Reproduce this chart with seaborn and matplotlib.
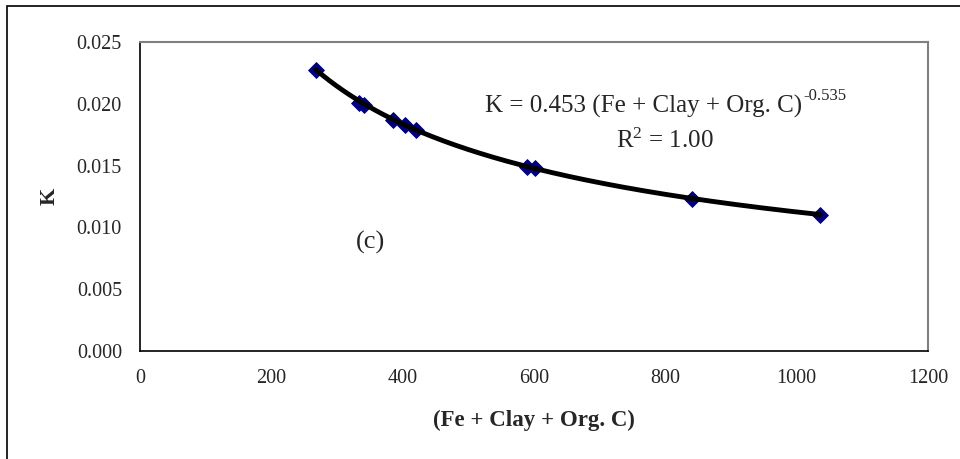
import numpy as np
import pandas as pd
import matplotlib
matplotlib.use("Agg")
import matplotlib.pyplot as plt
import seaborn as sns
from matplotlib.patches import Rectangle

# Data
x_vals = [268, 334, 341, 386, 404, 421, 590, 601, 840, 1036]
k_vals = [0.0227, 0.0201, 0.0199, 0.0187, 0.0183, 0.0179, 0.0149, 0.0148, 0.0123, 0.0110]
fit_a = 0.453
fit_b = -0.535
x_ticks = [0, 200, 400, 600, 800, 1000, 1200]
y_ticks = [0.000, 0.005, 0.010, 0.015, 0.020, 0.025]

sns.set_style("white")
plt.rcParams['font.family'] = ['Liberation Serif', 'DejaVu Serif']
plt.rcParams['mathtext.fontset'] = 'custom'
plt.rcParams['mathtext.rm'] = 'Liberation Serif'
plt.rcParams['mathtext.it'] = 'Liberation Serif'

fig = plt.figure(figsize=(9.6, 4.59), dpi=100)
ax = fig.add_axes([140/960, 1-351/459, (928-140)/960, (351-42)/459])

df = pd.DataFrame({"x": x_vals, "K": k_vals})
xf = np.linspace(min(x_vals), max(x_vals), 300)
fit_df = pd.DataFrame({"x": xf, "K": fit_a * xf ** fit_b})

sns.scatterplot(data=df, x="x", y="K", ax=ax, marker="D", s=65, color="#000080",
                edgecolor="#000080", zorder=3)
sns.lineplot(data=fit_df, x="x", y="K", ax=ax, color="black", lw=3.5, zorder=4)

ax.set_xlim(0, 1200)
ax.set_ylim(0, 0.025)
ax.set_xticks(x_ticks)
ax.set_xticklabels([str(t) for t in x_ticks])
ax.set_yticks(y_ticks)
ax.set_yticklabels([f"{t:.3f}" for t in y_ticks])
ax.tick_params(direction="in", length=6, width=1, color="black", labelsize=14.5,
               top=False, right=False)
ax.tick_params(axis="x", pad=13)
ax.tick_params(axis="y", pad=13)

for s in ["left", "bottom"]:
    ax.spines[s].set_color("black")
    ax.spines[s].set_linewidth(1.2)
for s in ["top", "right"]:
    ax.spines[s].set_color("#808080")
    ax.spines[s].set_linewidth(1.5)

ax.set_xlabel("(Fe + Clay + Org. C)", fontsize=16.5, fontweight="bold", labelpad=16)
ax.set_ylabel("K", fontsize=16, fontweight="bold", labelpad=12)

eq = ax.text(0.438, 0.770, "K = 0.453 (Fe + Clay + Org. C)", transform=ax.transAxes,
             ha="left", va="baseline", fontsize=18)
ax.annotate("-0.535", xy=(1.0, 1.0), xycoords=eq, xytext=(1, -6), textcoords="offset points",
            ha="left", va="bottom", fontsize=12)
ax.text(0.666, 0.657, r"R$^{2}$ = 1.00", transform=ax.transAxes,
        ha="center", va="baseline", fontsize=18)
ax.text(0.292, 0.333, "(c)", transform=ax.transAxes, ha="center", va="baseline", fontsize=19)

fig.patches.append(Rectangle((7/960, -0.1), 1.0, (459-6)/459 + 0.1, transform=fig.transFigure,
                             fill=False, edgecolor="black", lw=1.2))

fig.savefig("out.png", dpi=100)
